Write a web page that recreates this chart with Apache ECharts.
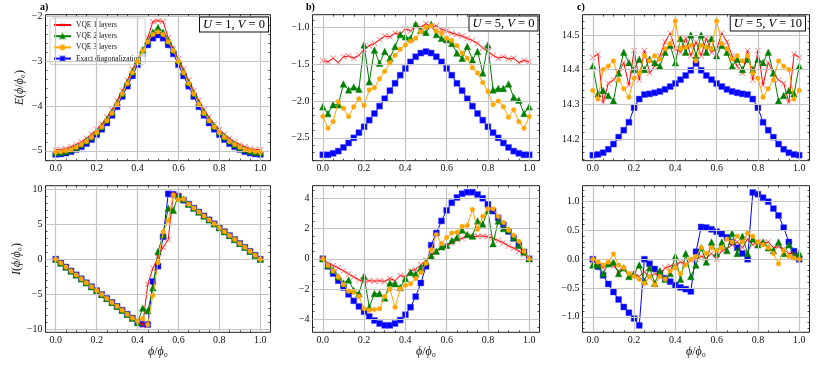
<!DOCTYPE html>
<html><head><meta charset="utf-8">
<script src="https://cdn.jsdelivr.net/npm/echarts@6/dist/echarts.min.js"></script>
<style>html,body{margin:0;padding:0;background:#fff}#c{width:830px;height:369px}</style>
</head><body><div id="c"></div>
<script>
// ---------------- data ----------------
const phi = [0,0.025,0.05,0.075,0.1,0.125,0.15,0.175,0.2,0.225,0.25,0.275,0.3,0.325,0.35,0.375,0.4,0.425,0.45,0.475,0.5,0.525,0.55,0.575,0.6,0.625,0.65,0.675,0.7,0.725,0.75,0.775,0.8,0.825,0.85,0.875,0.9,0.925,0.95,0.975,1.0];
const seriesNames = ['VQE 1 layers','VQE 2 layers','VQE 3 layers','Exact diagonalization'];

// a) U=1, V=0 energy
const E_a_vqe1 = [-4.98,-4.97,-4.95,-4.91,-4.86,-4.80,-4.72,-4.63,-4.52,-4.40,-4.25,-4.08,-3.88,-3.66,-3.43,-3.18,-2.95,-2.72,-2.48,-2.12,-2.10,-2.12,-2.48,-2.72,-2.95,-3.18,-3.43,-3.66,-3.88,-4.08,-4.25,-4.40,-4.52,-4.63,-4.72,-4.80,-4.86,-4.91,-4.95,-4.97,-4.98];
const E_a_vqe2 = [-5.04,-5.03,-5.01,-4.97,-4.92,-4.86,-4.78,-4.69,-4.58,-4.46,-4.31,-4.14,-3.94,-3.72,-3.48,-3.24,-2.99,-2.75,-2.55,-2.36,-2.25,-2.36,-2.55,-2.75,-2.99,-3.24,-3.48,-3.72,-3.94,-4.14,-4.31,-4.46,-4.58,-4.69,-4.78,-4.86,-4.92,-4.97,-5.01,-5.03,-5.04];
const E_a_vqe3 = [-5.03,-5.02,-5.00,-4.97,-4.92,-4.86,-4.79,-4.70,-4.59,-4.47,-4.33,-4.16,-3.96,-3.73,-3.50,-3.26,-3.01,-2.77,-2.57,-2.41,-2.35,-2.41,-2.57,-2.77,-3.01,-3.26,-3.50,-3.73,-3.96,-4.16,-4.33,-4.47,-4.59,-4.70,-4.79,-4.86,-4.92,-4.97,-5.00,-5.02,-5.03];
const E_a_exact = [-5.08,-5.07,-5.05,-5.02,-4.97,-4.91,-4.84,-4.75,-4.64,-4.52,-4.38,-4.21,-4.02,-3.79,-3.56,-3.33,-3.08,-2.84,-2.64,-2.49,-2.42,-2.49,-2.64,-2.84,-3.08,-3.33,-3.56,-3.79,-4.02,-4.21,-4.38,-4.52,-4.64,-4.75,-4.84,-4.91,-4.97,-5.02,-5.05,-5.07,-5.08];

// b) U=5, V=0 energy
const E_b_vqe1 = [-1.45,-1.47,-1.42,-1.48,-1.40,-1.39,-1.42,-1.38,-1.30,-1.25,-1.22,-1.17,-1.12,-1.13,-1.08,-1.10,-1.02,-1.05,-0.98,-1.00,-0.95,-1.00,-0.98,-1.03,-1.05,-1.08,-1.10,-1.12,-1.15,-1.18,-1.22,-1.28,-1.33,-1.38,-1.42,-1.40,-1.43,-1.42,-1.48,-1.45,-1.47];
const E_b_vqe2 = [-2.08,-2.17,-2.05,-2.05,-1.77,-1.85,-1.81,-1.84,-1.24,-1.74,-1.31,-1.49,-1.33,-1.42,-1.26,-1.10,-1.13,-1.15,-0.96,-1.04,-1.07,-0.96,-1.10,-1.15,-1.17,-1.22,-1.35,-1.42,-1.26,-1.44,-1.33,-1.62,-1.24,-1.85,-1.83,-1.83,-1.77,-1.95,-1.99,-2.17,-2.08];
const E_b_vqe3 = [-2.21,-2.37,-2.28,-2.01,-2.10,-2.21,-2.08,-1.97,-2.06,-1.85,-1.82,-1.70,-1.60,-1.48,-1.38,-1.30,-1.24,-1.19,-1.15,-1.06,-1.00,-0.98,-1.05,-1.08,-1.15,-1.18,-1.25,-1.35,-1.42,-1.55,-1.62,-1.75,-1.87,-2.05,-2.00,-2.08,-2.22,-2.12,-2.28,-2.37,-2.21];
const E_b_exact = [-2.73,-2.73,-2.71,-2.68,-2.63,-2.57,-2.50,-2.43,-2.35,-2.26,-2.17,-2.07,-1.97,-1.86,-1.76,-1.65,-1.56,-1.47,-1.40,-1.35,-1.33,-1.35,-1.40,-1.47,-1.56,-1.65,-1.76,-1.86,-1.97,-2.07,-2.17,-2.26,-2.35,-2.43,-2.50,-2.57,-2.63,-2.68,-2.71,-2.73,-2.73];

// c) U=5, V=10 energy
const E_c_vqe1 = [14.435,14.445,14.305,14.36,14.37,14.39,14.42,14.355,14.455,14.37,14.455,14.39,14.41,14.44,14.48,14.505,14.46,14.45,14.49,14.44,14.48,14.44,14.49,14.45,14.46,14.505,14.48,14.44,14.41,14.39,14.455,14.37,14.455,14.355,14.42,14.39,14.37,14.36,14.305,14.445,14.435];
const E_c_vqe2 = [14.41,14.33,14.34,14.325,14.31,14.39,14.45,14.42,14.40,14.43,14.40,14.43,14.42,14.41,14.45,14.47,14.42,14.49,14.45,14.50,14.44,14.50,14.45,14.49,14.44,14.47,14.45,14.41,14.43,14.40,14.43,14.40,14.43,14.42,14.45,14.39,14.31,14.325,14.34,14.33,14.41];
const E_c_vqe3 = [14.34,14.315,14.40,14.41,14.425,14.37,14.345,14.32,14.375,14.39,14.44,14.425,14.44,14.43,14.46,14.475,14.54,14.46,14.465,14.47,14.425,14.47,14.465,14.46,14.54,14.475,14.46,14.43,14.44,14.425,14.44,14.39,14.375,14.32,14.345,14.37,14.425,14.41,14.40,14.315,14.34];
const E_c_exact = [14.153,14.155,14.16,14.17,14.185,14.205,14.225,14.248,14.29,14.315,14.328,14.33,14.333,14.337,14.343,14.351,14.36,14.371,14.383,14.398,14.418,14.398,14.383,14.371,14.36,14.351,14.343,14.337,14.333,14.33,14.328,14.315,14.29,14.248,14.225,14.205,14.185,14.17,14.16,14.155,14.153];

// a) current
const I_a_vqe1 = [0,-0.56,-1.13,-1.69,-2.25,-2.81,-3.38,-3.94,-4.5,-5.06,-5.63,-6.19,-6.75,-7.31,-7.88,-8.44,-9.0,-9.5,-3.6,-1.3,0.3,1.7,2.8,9.4,9.1,8.44,7.88,7.31,6.75,6.19,5.63,5.06,4.5,3.94,3.38,2.81,2.25,1.69,1.13,0.56,0];
const I_a_vqe2 = [0,-0.56,-1.13,-1.69,-2.25,-2.81,-3.38,-3.94,-4.5,-5.06,-5.63,-6.19,-6.75,-7.31,-7.88,-8.44,-9.1,-7.0,-7.4,-4.1,1.1,3.5,7.3,7.0,9.2,8.6,7.88,7.31,6.75,6.19,5.63,5.06,4.5,3.94,3.38,2.81,2.25,1.69,1.13,0.56,0];
const I_a_vqe3 = [0,-0.56,-1.13,-1.69,-2.25,-2.81,-3.38,-3.94,-4.5,-5.06,-5.63,-6.19,-6.75,-7.31,-7.88,-8.44,-8.9,-8.5,-9.4,-5.2,-0.5,3.9,5.5,9.2,8.5,8.6,7.88,7.31,6.75,6.19,5.63,5.06,4.5,3.94,3.38,2.81,2.25,1.69,1.13,0.56,0];
const I_a_exact = [0,-0.56,-1.13,-1.69,-2.25,-2.81,-3.38,-3.94,-4.5,-5.06,-5.63,-6.19,-6.75,-7.31,-7.88,-8.44,-9.0,-9.3,-9.35,-3.2,-1.0,3.2,9.35,9.3,9.0,8.44,7.88,7.31,6.75,6.19,5.63,5.06,4.5,3.94,3.38,2.81,2.25,1.69,1.13,0.56,0];

// b) current
const I_b_vqe1 = [0,-0.3,-0.45,-0.6,-0.8,-1.0,-1.2,-1.4,-1.5,-1.45,-1.48,-1.45,-1.5,-1.3,-1.45,-1.1,-1.2,-0.8,-0.7,-0.4,-0.1,0.3,0.5,0.7,0.85,1.05,1.25,1.35,1.5,1.45,1.5,1.5,1.45,1.35,1.2,1.05,0.85,0.7,0.5,0.3,0];
const I_b_vqe2 = [0,-0.45,-0.75,-1.2,-1.6,-1.4,-2.1,-2.3,-1.15,-3.2,-2.3,-2.3,-2.6,-1.6,-1.65,-1.9,-1.3,-0.9,-1.0,-0.6,-0.2,0.2,0.5,0.8,0.9,1.2,1.4,1.9,1.6,1.5,2.5,2.3,3.2,1.0,2.5,2.0,1.9,1.4,0.9,0.45,0];
const I_b_vqe3 = [0,-0.45,-0.8,-1.2,-1.7,-2.15,-2.2,-2.5,-3.3,-3.4,-3.35,-3.3,-2.5,-2.0,-3.2,-2.0,-1.75,-1.65,-1.3,-0.9,-0.3,0.6,1.6,1.0,1.4,1.7,1.75,2.15,2.2,3.25,1.95,2.8,3.3,3.3,2.8,2.4,1.9,1.55,1.15,0.5,0];
const I_b_exact = [0,-0.5,-0.98,-1.45,-1.9,-2.35,-2.78,-3.15,-3.5,-3.82,-4.08,-4.28,-4.4,-4.4,-4.28,-4.05,-3.7,-3.2,-2.5,-1.6,-0.5,0.9,1.7,2.5,3.2,3.7,4.05,4.3,4.4,4.4,4.25,4.0,3.6,3.15,2.7,2.25,1.8,1.35,0.9,0.45,0];

// c) current
const I_c_vqe1 = [-0.1,-0.1,-0.15,-0.08,-0.12,-0.2,-0.17,-0.28,-0.25,-0.3,-0.22,-0.32,-0.25,-0.28,-0.15,-0.12,-0.1,-0.05,-0.08,-0.02,0.0,0.05,0.02,0.1,0.0,0.15,0.18,0.25,0.3,0.2,0.35,0.25,0.3,0.28,0.3,0.2,0.22,0.18,0.1,0.1,0.05];
const I_c_vqe2 = [-0.1,-0.1,-0.25,-0.08,-0.05,-0.25,-0.15,-0.3,-0.25,-0.1,-0.38,-0.15,-0.42,-0.2,-0.35,-0.25,0.05,-0.35,0.1,-0.3,-0.1,0.2,-0.05,0.3,0.1,0.3,0.15,0.45,0.1,0.4,0.1,0.35,0.25,0.3,0.2,0.15,0.3,0.1,0.25,0.05,0.1];
const I_c_vqe3 = [0.0,-0.05,-0.1,-0.05,0.09,-0.1,-0.15,-0.25,-0.3,-0.35,-0.42,-0.3,-0.45,-0.3,-0.35,-0.2,-0.15,-0.25,-0.1,0.0,0.05,0.2,0.1,0.2,0.15,0.2,0.35,0.3,0.4,0.3,0.45,0.4,0.3,0.25,0.2,0.1,-0.08,0.15,0.05,0.02,0.0];
const I_c_exact = [0,-0.13,-0.28,-0.43,-0.57,-0.70,-0.83,-0.93,-1.03,-1.15,0.0,-0.08,-0.17,-0.25,-0.33,-0.39,-0.45,-0.49,-0.52,-0.56,0.13,0.56,0.55,0.52,0.48,0.44,0.38,0.30,0.20,0.10,0.0,1.16,1.13,1.07,1.0,0.88,0.76,0.55,0.30,0.14,0.0];

// tick labels
const xTicks = [0, 0.2, 0.4, 0.6, 0.8, 1.0];
const yTicks_Ea = [-5, -4, -3, -2];
const yTicks_Eb = [-2.5, -2.0, -1.5, -1.0];
const yTicks_Ec = [14.2, 14.3, 14.4, 14.5];
const yTicks_Ia = [-10, -5, 0, 5, 10];
const yTicks_Ib = [-4, -2, 0, 2, 4];
const yTicks_Ic = [-1.0, -0.5, 0, 0.5, 1.0];

// ---------------- layout / style ----------------
const FONT = '"Liberation Serif", "DejaVu Serif", serif';
const frameColor = '#222';
const gridColor = '#c4c4c4';
const X_RANGE = [-0.05, 1.05];

const panels = [
  {grid:{left:45.5, top:14.7, width:225, height:146}, y:[-5.22,-1.967], ticks:yTicks_Ea, minor:0.2, dec:0, data:[E_a_vqe1,E_a_vqe2,E_a_vqe3,E_a_exact], yName:'{i|E}({i|ϕ}/{i|ϕ}₀)', xName:false},
  {grid:{left:312.5, top:14.7, width:227, height:146}, y:[-2.81,-0.83], ticks:yTicks_Eb, minor:0.1, dec:1, data:[E_b_vqe1,E_b_vqe2,E_b_vqe3,E_b_exact], yName:null, xName:false},
  {grid:{left:582.5, top:14.7, width:227, height:146}, y:[14.137,14.5585], ticks:yTicks_Ec, minor:0.02, dec:1, data:[E_c_vqe1,E_c_vqe2,E_c_vqe3,E_c_exact], yName:null, xName:false},
  {grid:{left:45.5, top:185.7, width:225, height:146.6}, y:[-10.47,10.52], ticks:yTicks_Ia, minor:1, dec:0, data:[I_a_vqe1,I_a_vqe2,I_a_vqe3,I_a_exact], yName:'{i|I}({i|ϕ}/{i|ϕ}₀)', xName:true},
  {grid:{left:312.5, top:185.7, width:227, height:146.6}, y:[-4.86,4.83], ticks:yTicks_Ib, minor:0.5, dec:0, data:[I_b_vqe1,I_b_vqe2,I_b_vqe3,I_b_exact], yName:null, xName:true},
  {grid:{left:582.5, top:185.7, width:227, height:146.6}, y:[-1.27,1.278], ticks:yTicks_Ic, minor:0.1, dec:1, data:[I_c_vqe1,I_c_vqe2,I_c_vqe3,I_c_exact], yName:null, xName:true}
];

const styles = [
  {color:'#ff0000', symbol:'path://M0,1L1,0L5,4L9,0L10,1L6,5L10,9L9,10L5,6L1,10L0,9L4,5Z', size:6, fill:'rgba(255,40,40,0.6)', border:null, z:3},
  {color:'#008000', symbol:'triangle', size:6.5, fill:'#008000', border:'rgba(0,128,0,0.45)', z:4},
  {color:'#ffa500', symbol:'circle', size:4.5, fill:'#ffa500', border:'rgba(255,165,0,0.5)', z:5},
  {color:'#0000ff', symbol:'rect', size:6, fill:'#0000ff', border:'rgba(90,90,255,0.45)', z:2}
];

function minorVals(lo, hi, step, majors){
  const out = [];
  const k0 = Math.ceil(lo/step - 1e-9), k1 = Math.floor(hi/step + 1e-9);
  for (let k=k0; k<=k1; k++){
    const v = +(k*step).toFixed(6);
    if (v>lo && v<hi && !majors.some(m => Math.abs(m-v) < step*1e-3)) out.push(v);
  }
  return out;
}
function fmt(v, d){ return v.toFixed(d).replace('-', '\u2212'); }
const tickLine = {color:frameColor, width:0.8};
const labelStyle = {fontFamily:FONT, fontSize:10, color:'#111'};
const nameRich = {i:{fontStyle:'italic', fontFamily:FONT, fontSize:12, color:'#111'}};

const grid = [], xAxis = [], yAxis = [], series = [];
panels.forEach((p, gi) => {
  grid.push(Object.assign({show:true, borderColor:frameColor, borderWidth:1, backgroundColor:'transparent', containLabel:false, outerBoundsMode:'none'}, p.grid));
  const xMinor = minorVals(X_RANGE[0], X_RANGE[1], 0.05, xTicks);
  const yMinor = minorVals(p.y[0], p.y[1], p.minor, p.ticks);
  const ax = (pos, vals, len, main) => ({
    gridIndex:gi, type:'value', min:X_RANGE[0], max:X_RANGE[1], position:pos,
    axisLine:{show:false, onZero:false},
    axisTick:{show:true, inside:true, length:len, customValues:vals, lineStyle:tickLine},
    axisLabel: main ? {show:true, customValues:xTicks, margin:3, formatter:v=>fmt(v,1), ...labelStyle} : {show:false},
    splitLine:{show:false},
    name: (main && p.xName) ? '{i|ϕ}/{i|ϕ}₀' : '',
    nameLocation:'middle', nameGap:14,
    nameTextStyle:{fontFamily:FONT, fontSize:12, color:'#111', rich:nameRich}
  });
  const ay = (pos, vals, len, main) => ({
    gridIndex:gi, type:'value', min:p.y[0], max:p.y[1], position:pos,
    axisLine:{show:false, onZero:false},
    axisTick:{show:true, inside:true, length:len, customValues:vals, lineStyle:tickLine},
    axisLabel: main ? {show:true, customValues:p.ticks, margin:3, formatter:v=>fmt(v,p.dec), ...labelStyle} : {show:false},
    splitLine:{show:false},
    name: (main && p.yName) ? p.yName : '',
    nameLocation:'middle', nameGap:20, nameRotate:90,
    nameTextStyle:{fontFamily:FONT, fontSize:12, color:'#111', rich:nameRich}
  });
  const xi = xAxis.length, yi = yAxis.length;
  xAxis.push(ax('bottom', xTicks, 4, true), ax('bottom', xMinor, 2, false), ax('top', xTicks, 4, false), ax('top', xMinor, 2, false));
  yAxis.push(ay('left', p.ticks, 4, true), ay('left', yMinor, 2, false), ay('right', p.ticks, 4, false), ay('right', yMinor, 2, false));
  // grid lines at the major tick values, placed through the axes' own scales
  series.push({
    type:'line', name:'_grid'+gi, xAxisIndex:xi, yAxisIndex:yi, data:[], silent:true, z:1,
    markLine:{
      silent:true, symbol:['none','none'], animation:false,
      label:{show:false}, emphasis:{disabled:true},
      lineStyle:{color:gridColor, width:1.2, type:'solid'},
      data: xTicks.map(v => ({xAxis:v})).concat(p.ticks.map(v => ({yAxis:v})))
    }
  });
  p.data.forEach((arr, si) => {
    const s = styles[si];
    series.push({
      type:'line', name:seriesNames[si], xAxisIndex:xi, yAxisIndex:yi,
      data: phi.map((x, i) => [x, arr[i]]),
      symbol:s.symbol, symbolSize:s.size, showSymbol:true, showAllSymbol:true,
      lineStyle:{color:s.color, width:1},
      itemStyle:{color:s.fill, borderColor:s.border || s.fill, borderWidth:s.border ? 1 : 0},
      z:s.z, silent:true, animation:false, emphasis:{disabled:true}
    });
  });
});

const boxStyle = (txt) => ({
  text:txt, fontFamily:FONT, fontSize:12.5, fill:'#000',
  rich:{i:{fontStyle:'italic', fontFamily:FONT, fontSize:12.5, fill:'#000'}},
  backgroundColor:'#fff', borderColor:'#111', borderWidth:1, padding:[1,3,0,3]
});

const option = {
  animation:false,
  backgroundColor:'#fff',
  grid, xAxis, yAxis, series,
  legend:{
    show:true, orient:'vertical', left:50, top:18,
    data:seriesNames, itemWidth:17, itemHeight:6, itemGap:3.2,
    textStyle:{fontFamily:FONT, fontSize:7.5, color:'#111'},
    padding:[3,4,2,3], borderColor:'#cfcfcf', borderWidth:1, borderRadius:2,
    backgroundColor:'rgba(255,255,255,0.85)', selectedMode:false
  },
  graphic:[
    {type:'text', left:40, top:2, style:{text:'a)', fontFamily:FONT, fontSize:10, fontWeight:'bold', fill:'#000'}, z:10},
    {type:'text', left:306, top:2, style:{text:'b)', fontFamily:FONT, fontSize:10, fontWeight:'bold', fill:'#000'}, z:10},
    {type:'text', left:577, top:2, style:{text:'c)', fontFamily:FONT, fontSize:10, fontWeight:'bold', fill:'#000'}, z:10},
    {type:'text', right:561, top:16.5, style:boxStyle('{i|U} = 1, {i|V} = 0'), z:10},
    {type:'text', right:291.5, top:15.5, style:boxStyle('{i|U} = 5, {i|V} = 0'), z:10},
    {type:'text', right:24, top:15.5, style:boxStyle('{i|U} = 5, {i|V} = 10'), z:10}
  ]
};
const chart = echarts.init(document.getElementById('c'), null, {renderer:'canvas', width:830, height:369});
chart.setOption(option);
</script>
</body></html>
